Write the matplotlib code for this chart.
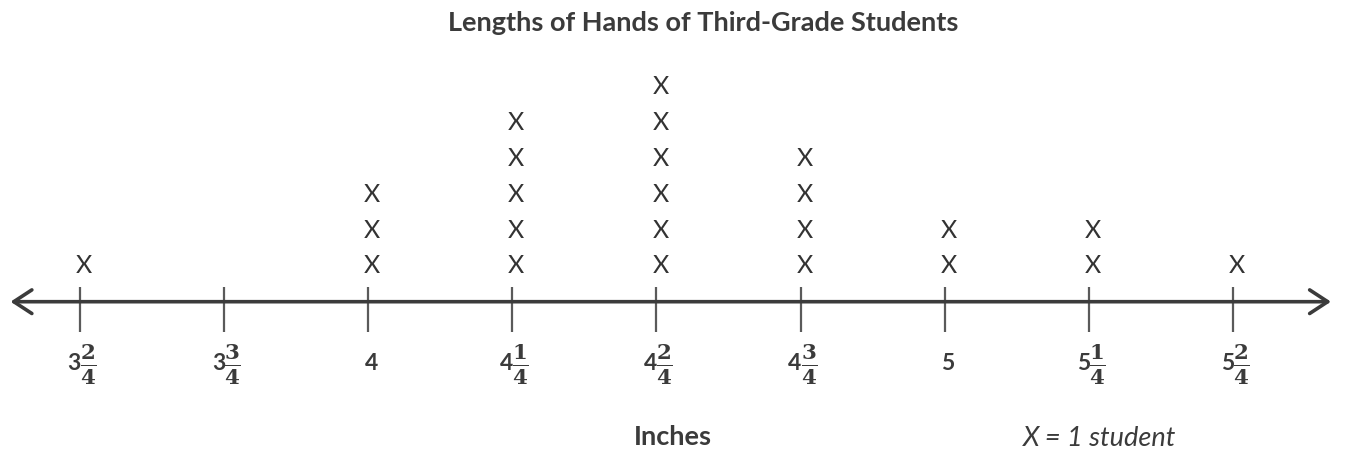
import matplotlib
matplotlib.use("Agg")
import matplotlib.pyplot as plt
from matplotlib.transforms import offset_copy

# Hand lengths (inches) and number of students at each length
whole_parts = [3, 3, 4, 4, 4, 4, 5, 5, 5]
numerators = [2, 3, 0, 1, 2, 3, 0, 1, 2]
denominator = 4
counts = [1, 0, 3, 5, 6, 4, 2, 2, 1]

title = "Lengths of Hands of Third-Grade Students"
x_label = "Inches"
key_text = "X = 1 student"

lengths = [w + n / denominator for w, n in zip(whole_parts, numerators)]

W, H, DPI = 1369, 463, 100
fig = plt.figure(figsize=(W / DPI, H / DPI), dpi=DPI)
ax = fig.add_axes([0, 0, 1, 1])
ax.set_axis_off()

# number line scale: 1 inch of hand length spans ~576 px
px_per_unit = 576.5
left_px = 80
x0 = lengths[0] - left_px / px_per_unit
ax.set_xlim(x0, x0 + W / px_per_unit)
# vertical scale: one stacked X per unit, line at 0
row_px = 35.8
line_px = 301.7
ax.set_ylim(-(H - line_px) / row_px, line_px / row_px)

ink = "#3b3b3b"
tick_col = "#5a5a5a"
sans = ["Lato", "DejaVu Sans"]

# number line with arrows on both ends
lo = x0 + 10.5 / px_per_unit
hi = x0 + 1331 / px_per_unit
ax.annotate("", xy=(hi, 0), xytext=(lo, 0),
            arrowprops=dict(arrowstyle="<->,head_length=1.3,head_width=0.85",
                            lw=2.6, color=ink, shrinkA=0, shrinkB=0))

# tick marks
ax.vlines(lengths, -30.3 / row_px, 14.7 / row_px, color=tick_col, lw=1.6)

# stacked X marks
for x, c in zip(lengths, counts):
    for k in range(1, c + 1):
        ax.text(x, k, "X", ha="center", va="center", fontsize=18,
                family=sans, fontweight="normal", color="#333333",
                transform=offset_copy(ax.transData, fig=fig, x=4, y=0, units="dots"))

# mixed-number tick labels
lab_y = -61.3 / row_px
plt.rcParams["mathtext.fontset"] = "dejavuserif"
for x, w, n in zip(lengths, whole_parts, numerators):
    if n == 0:
        ax.text(x, lab_y, str(w), ha="center", va="center", fontsize=16.5,
                fontweight="bold", family=sans, color=ink,
                transform=offset_copy(ax.transData, fig=fig, x=3, y=0, units="dots"))
    else:
        ax.text(x, lab_y, str(w), ha="right", va="center", fontsize=16.5,
                fontweight="bold", family=sans, color=ink,
                transform=offset_copy(ax.transData, fig=fig, x=1, y=0, units="dots"))
        ax.text(x, lab_y, r"$\mathbf{\frac{%d}{%d}}$" % (n, denominator),
                ha="left", va="center", fontsize=22, color=ink,
                transform=offset_copy(ax.transData, fig=fig, x=0, y=-1, units="dots"))

# title, axis name and key
ax.text(703 / W, 1 - 22.7 / H, title, transform=ax.transAxes, ha="center",
        va="center", fontsize=19.5, fontweight="bold", family=sans, color=ink)
ax.text(673 / W, 1 - 437 / H, x_label, transform=ax.transAxes, ha="center",
        va="center", fontsize=19.5, fontweight="bold", family=sans, color=ink)
ax.text(1100 / W, 1 - 439 / H, key_text, transform=ax.transAxes, ha="center",
        va="center", fontsize=19.5, style="italic", family=sans, color=ink)

fig.savefig("out.png", dpi=DPI)
